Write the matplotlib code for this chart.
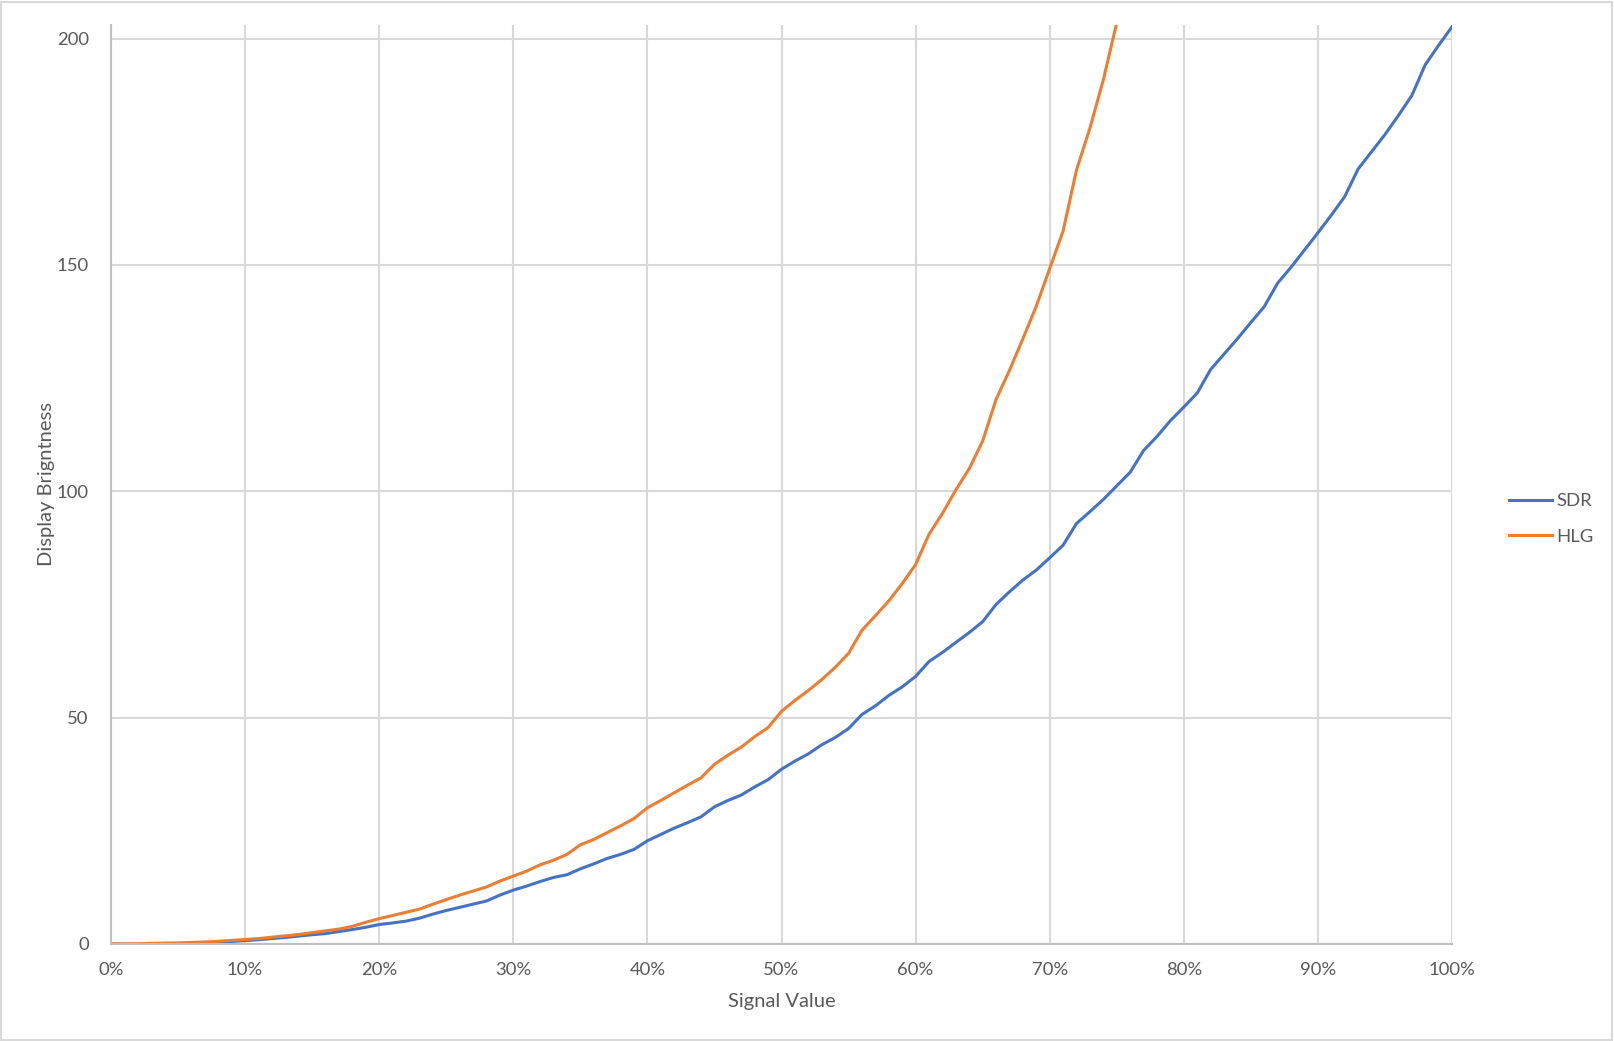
import matplotlib
matplotlib.use("Agg")
import matplotlib.pyplot as plt
from matplotlib.patches import Rectangle
from matplotlib.ticker import FuncFormatter, MultipleLocator

# ---- data ----
signal_pct = list(range(0, 101))
sdr = [0, 0, 0, 0.02, 0.05, 0.1, 0.15, 0.25, 0.4, 0.55,
       0.75, 0.95, 1.2, 1.45, 1.75, 2.05, 2.3, 2.75, 3.2, 3.7,
       4.3, 4.65, 5.05, 5.7, 6.6, 7.4, 8.1, 8.8, 9.5, 10.8,
       11.9, 12.8, 13.8, 14.7, 15.3, 16.6, 17.7, 18.9, 19.8, 20.9,
       22.8, 24.2, 25.6, 26.8, 28.1, 30.3, 31.7, 32.9, 34.7, 36.3,
       38.6, 40.4, 42.0, 44.0, 45.6, 47.6, 50.7, 52.6, 54.9, 56.8,
       59.1, 62.4, 64.4, 66.6, 68.8, 71.2, 75.0, 77.8, 80.4, 82.6,
       85.3, 88.1, 92.9, 95.5, 98.2, 101.2, 104.2, 109.0, 112.1, 115.6,
       118.6, 121.7, 126.9, 130.3, 133.7, 137.3, 140.8, 146.0, 149.5, 153.3,
       157.1, 161.0, 165.1, 171.2, 175.0, 178.8, 183.0, 187.4, 194.2, 198.5,
       202.6]
hlg_pct = list(range(0, 76))
hlg = [0, 0, 0, 0.15, 0.2, 0.25, 0.35, 0.45, 0.6, 0.8,
       1.0, 1.2, 1.5, 1.8, 2.1, 2.5, 2.9, 3.3, 3.9, 4.8,
       5.6, 6.3, 7.0, 7.7, 8.8, 9.8, 10.8, 11.7, 12.6, 13.9,
       15.0, 16.1, 17.5, 18.5, 19.8, 21.9, 23.1, 24.6, 26.1, 27.7,
       30.1, 31.7, 33.4, 35.1, 36.7, 39.7, 41.7, 43.5, 45.8, 47.8,
       51.4, 53.8, 56.0, 58.4, 61.1, 64.2, 69.3, 72.5, 75.8, 79.6,
       83.8, 90.5, 95.1, 100.3, 105.0, 111.1, 120.3, 126.7, 133.7, 140.9,
       149.2, 157.5, 171.0, 180.2, 190.9, 203.5]
series_names = ["SDR", "HLG"]
x_title = "Signal Value"
y_title = "Display Brigntness"

# ---- styling ----
plt.rcParams['font.family'] = ['Lato', 'DejaVu Sans']
text_color = "#595959"
grid_color = "#d9d9d9"
colors = ["#4472C4", "#ED7D31"]

W, H = 1614, 1041
fig = plt.figure(figsize=(W / 100, H / 100), dpi=100)
ax = fig.add_axes([111 / W, 97 / H, (1452 - 111) / W, (944 - 25) / H])

ax.plot([p / 100 for p in signal_pct], sdr, color=colors[0], lw=2.2,
        label=series_names[0], solid_joinstyle="round")
ax.plot([p / 100 for p in hlg_pct], hlg, color=colors[1], lw=2.2,
        label=series_names[1], solid_joinstyle="round")

ax.set_xlim(0, 1)
ax.set_ylim(0, 203)
ax.xaxis.set_major_locator(MultipleLocator(0.1))
ax.yaxis.set_major_locator(MultipleLocator(50))
ax.xaxis.set_major_formatter(FuncFormatter(lambda v, _: f"{round(v * 100)}%"))
ax.grid(True, color=grid_color, lw=1.5)
ax.set_axisbelow(True)
for s in ["top", "right"]:
    ax.spines[s].set_visible(False)
for s in ["left", "bottom"]:
    ax.spines[s].set_color("#bfbfbf")
    ax.spines[s].set_linewidth(1.5)
ax.tick_params(length=0, labelsize=13.3, labelcolor=text_color)
ax.tick_params(axis="x", pad=13)
ax.tick_params(axis="y", pad=16)

ax.set_xlabel(x_title, fontsize=14.5, color=text_color, labelpad=11)
ax.set_ylabel(y_title, fontsize=14.5, color=text_color, labelpad=1)

leg = ax.legend(loc="center left", bbox_to_anchor=(1.037, 0.4625), frameon=False,
                fontsize=13.3, handlelength=2.35, handletextpad=0.2,
                labelspacing=1.05, borderaxespad=0)
for t in leg.get_texts():
    t.set_color(text_color)

# outer chart border
fig.patches.append(Rectangle((1 / W, 1 / H), 1 - 3 / W, 1 - 3 / H,
                             transform=fig.transFigure, fill=False,
                             edgecolor=grid_color, lw=1.5))

fig.savefig("out.png", dpi=100, facecolor="white")
